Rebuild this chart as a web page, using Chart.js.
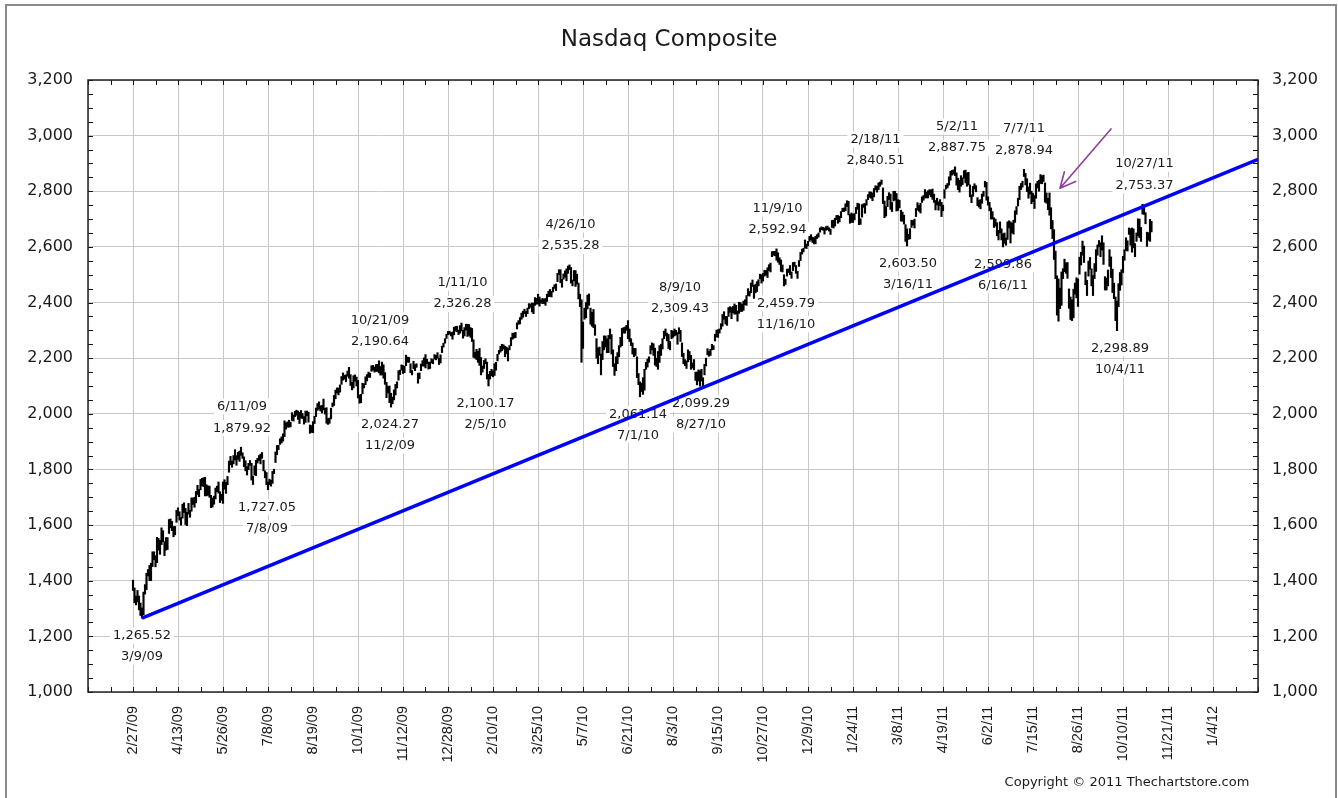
<!DOCTYPE html>
<html>
<head>
<meta charset="utf-8">
<title>Nasdaq Composite</title>
<script src="https://cdn.jsdelivr.net/npm/chart.js@4.4.0/dist/chart.umd.min.js"></script>
<style>
  html, body { margin:0; padding:0; background:#fff; }
  canvas { display:block; }
</style>
</head>
<body>
<canvas id="chart" width="1338" height="798"></canvas>
<script>
// Nasdaq Composite daily bars, one entry per trading day from 2/27/09 (index 0) to 11/4/11
// x axis counts trading days, a date label every 30 days
const dateLabels = ['2/27/09','4/13/09','5/26/09','7/8/09','8/19/09','10/1/09','11/12/09','12/28/09',
  '2/10/10','3/25/10','5/7/10','6/21/10','8/3/10','9/15/10','10/27/10','12/9/10',
  '1/24/11','3/8/11','4/19/11','6/2/11','7/15/11','8/26/11','10/10/11','11/21/11','1/4/12'];

const lows = [
  1365,
  1321,1313,1324,1295,1275,1265.52,1278,1352,1368,1417,1400,1400,1451,1476,1450,1465,1510,1495,1530,1540,1490,1510,
  1512,1570,1590,1580,1558,1565,1610,1634,1618,1600,1625,1645,1602,1598,1640,1628,1650,1674,1664,1680,1710,
  1702,1727,1741,1738,1705,1705,1707,1700,1663,1665,1675,1694,1720,1715,1681,1689,1678,1729,1714,1745,
  1790,1817,1808,1820,1834,1815,1836,1829,1851,1840,1810,1795,1780,1799,1815,1762,1746,1780,1778,1823,1832,1820,
  1840,1795,1770,1745,1727.05,1745,1740,1750,1785,1825,1853,1871,1890,1895,1902,1918,1945,1952,1952,1953,1976,1974,
  1990,1995,1980,1965,1985,1983,1963,1969,1993,1970,1930,1933,1932,1965,1990,2012,2017,2010,2003,2014,1999,
  1966,1962,1966,1982,2025,2030,2054,2075,2068,2078,2106,2121,2125,2115,2135,2128,2102,2086,2093,2117,2100,
  2057,2038,2040,2072,2093,2105,2118,2131,2131,2153,2157,2150,2153,2152,2147,2139,2140,2128,2106,2058,2075,2040,
  2024.27,2036,2050,2068,2093,2121,2141,2157,2145,2148,2173,2185,2185,2148,2140,2162,2155,2167,2110,2126,
  2155,2172,2171,2165,2180,2161,2163,2183,2180,2197,2194,2200,2177,2183,2220,2240,2254,2271,2284,2286,2280,2268,
  // 2010
  2284,2297,2295,2285,2290,2298,2272,2280,2301,2278,2282,2275,2260,2203,2200,2195,2185,2174,2140,
  2150,2163,2180,2125,2100.17,2125,2137,2133,2138,2157,2190,2215,2222,2227,2233,2205,2216,2190,2230,
  2245,2268,2272,2274,2305,2322,2323,2340,2347,2360,2350,2360,2378,2383,2366,2360,2390,2394,2395,2387,2398,2396,2396,
  2390,2404,2421,2422,2420,2438,2451,2443,2475,2500,2471,2455,2484,2491,2478,2505,2518,2470,2460,2478,2458,
  2466,2413,2385,2185,2235,2340,2345,2377,2390,2322,2315,2310,2282,2200,2180,2210,2140,2195,2230,2240,
  2220,2220,2270,2215,2170,2138,2155,2180,2205,2240,2245,2290,2290,2300,2270,2260,2245,2215,2205,2210,2130,2105,
  2061.14,2080,2070,2085,2160,2168,2185,2215,2230,2210,2175,2170,2160,2185,2210,2233,2270,2280,2262,2235,2230,
  2270,2275,2280,2283,2250,2288,2260,2206,2180,2173,2163,2187,2195,2160,2165,2158,2120,2104,2118,2099.29,2118,2100,
  2140,2172,2212,2207,2210,2230,2231,2262,2276,2275,2290,2304,2315,2340,2323,2318,2350,2365,2342,2363,2358,
  2359,2333,2361,2368,2368,2372,2392,2390,2425,2423,2435,2458,2415,2435,2440,2460,2485,2470,2477,2495,2498,
  2490,2515,2510,2565,2570,2568,2552,2545,2537,2512,2510,2459.79,2465,2495,2508,2500,2487,2515,2530,2505,2487,
  2530,2551,2574,2582,2596,2594,2604,2620,2624,2616,2611,2611,2630,2635,2653,2662,2660,2646,2660,2662,2657,2645,
  // 2011
  2670,2668,2675,2698,2685,2690,2705,2727,2727,2730,2745,2715,2685,2688,2688,2697,2720,2735,2680,2681,
  2707,2742,2721,2750,2770,2778,2775,2766,2780,2805,2797,2806,2818,2825,2756,2705,2711,2745,2770,
  2735,2727,2765,2768,2729,2731,2740,2693,2692,2682,2620,2603.5,2627,2629,2670,2678,2668,2709,2733,2728,2722,2760,2768,
  2776,2776,2776,2787,2780,2771,2760,2733,2751,2732,2748,2709,2730,2775,2808,2812,2822,2840,2858,2862,
  2856,2822,2806,2797,2818,2824,2847,2830,2818,2823,2780,2759,2782,2808,2798,2748,2743,2737,2757,2782,2815,
  2768,2750,2730,2700,2700,2670,2675,2640,2625,2650,2625,2599.86,2613,2606,2627,2668,2614,2650,2646,2688,2717,2747,
  2770,2806,2815,2853,2823,2799,2775,2790,2755,2763,2738,2775,2812,2800,2828,2827,2835,2761,2757,2734,
  2714,2665,2630,2555,2486,2355,2333,2378,2390,2486,2511,2505,2487,2379,2339,2335,2345,2430,2417,2386,2502,2535,2570,
  2544,2464,2425,2495,2520,2460,2425,2486,2512,2570,2600,2565,2589,2537,2445,2445,2460,2530,2490,2436,2414,
  2335,2298.89,2385,2444,2463,2508,2552,2587,2585,2645,2606,2581,2597,2565,2620,2639,2633,2620,2718,2717,2683,
  2602,2624,2620,2654
];

const highs = [
  1402,
  1374,1345,1365,1345,1320,1302,1359,1386,1427,1440,1455,1463,1504,1504,1490,1556,1552,1545,1590,1580,1540,1555,
  1555,1620,1622,1613,1595,1595,1653,1662,1648,1628,1675,1680,1660,1646,1678,1653,1698,1697,1700,1721,1743,
  1728,1764,1768,1770,1772,1745,1741,1740,1707,1697,1704,1733,1740,1755,1720,1711,1755,1763,1754,1775,
  1830,1847,1830,1850,1871,1850,1862,1866,1879.92,1860,1845,1831,1810,1822,1832,1822,1776,1813,1833,1840,1850,1855,
  1861,1833,1795,1789,1755,1765,1761,1793,1801,1863,1886,1887,1910,1917,1928,1975,1968,1971,1977,1970,2004,1996,
  2009,2013,2010,2005,2012,2001,1990,2010,2010,2006,1960,1958,1972,1991,2021,2037,2043,2029,2030,2053,2020,
  2022,1983,1985,2020,2039,2066,2085,2093,2093,2104,2134,2147,2139,2140,2154,2167,2141,2113,2137,2140,2132,
  2120,2068,2070,2110,2108,2133,2141,2150,2146,2173,2174,2168,2177,2178,2190.64,2170,2186,2176,2148,2113,2099,2100,
  2074,2060,2086,2106,2115,2155,2157,2176,2174,2171,2211,2204,2203,2180,2156,2189,2177,2180,2146,2147,
  2179,2191,2201,2213,2196,2186,2186,2198,2195,2213,2210,2220,2200,2212,2243,2254,2270,2286,2296,2297,2292,2294,
  // 2010
  2311,2314,2315,2301,2317,2326.28,2300,2310,2322,2322,2321,2310,2307,2266,2221,2232,2225,2235,2202,
  2172,2192,2198,2186,2142,2153,2160,2155,2180,2185,2214,2228,2243,2250,2248,2243,2240,2235,2245,
  2274,2290,2290,2293,2327,2335,2346,2362,2369,2376,2368,2380,2396,2395,2398,2398,2418,2415,2430,2420,2410,2415,2412,
  2415,2430,2441,2447,2440,2455,2464,2467,2505,2518,2518,2484,2503,2514,2521,2531,2535.28,2526,2481,2515,2515,
  2502,2470,2430,2410,2330,2380,2400,2427,2431,2380,2365,2375,2320,2270,2237,2240,2215,2260,2280,2280,
  2270,2282,2305,2285,2230,2180,2205,2220,2245,2275,2307,2310,2312,2318,2335,2305,2270,2255,2235,2235,2205,2145,
  2115,2110,2130,2160,2185,2197,2205,2245,2255,2252,2236,2200,2224,2245,2250,2270,2297,2305,2290,2285,2260,
  2300,2297,2305,2300,2292,2309.43,2300,2255,2218,2195,2190,2230,2224,2210,2183,2195,2150,2150,2158,2155,2160,2130,
  2178,2200,2234,2225,2232,2250,2245,2286,2301,2302,2305,2324,2357,2367,2350,2350,2382,2385,2382,2386,2395,
  2390,2370,2401,2400,2394,2405,2410,2425,2450,2440,2470,2481,2462,2466,2475,2482,2502,2500,2505,2516,2515,
  2525,2536,2542,2583,2584,2584,2592.94,2579,2561,2553,2535,2500,2484,2520,2521,2533,2510,2544,2545,2533,2512,
  2551,2580,2592,2595,2625,2610,2620,2638,2644,2635,2633,2638,2644,2650,2668,2672,2670,2668,2673,2675,2669,2664,
  // 2011
  2695,2696,2703,2713,2713,2710,2727,2739,2740,2755,2766,2764,2717,2722,2718,2720,2742,2757,2755,2701,
  2752,2755,2756,2770,2788,2798,2797,2794,2810,2820,2818,2830,2833,2840.51,2812,2765,2745,2782,2795,
  2790,2760,2800,2800,2792,2770,2768,2732,2725,2714,2680,2665,2645,2666,2696,2695,2700,2738,2759,2750,2757,2780,2785,
  2806,2797,2802,2806,2805,2808,2790,2767,2775,2762,2770,2760,2750,2806,2822,2828,2852,2872,2875,2877,
  2887.75,2866,2847,2840,2856,2848,2874,2876,2866,2868,2823,2787,2818,2827,2820,2777,2768,2770,2790,2800,2836,
  2832,2780,2760,2740,2727,2705,2700,2687,2660,2690,2665,2647,2650,2632,2690,2694,2690,2686,2696,2730,2745,2775,
  2818,2828,2836,2878.94,2864,2845,2815,2829,2800,2792,2785,2827,2836,2840,2860,2856,2858,2830,2794,2775,
  2794,2741,2695,2662,2585,2496,2485,2452,2510,2522,2556,2543,2544,2449,2420,2410,2448,2470,2489,2485,2563,2581,2621,
  2603,2510,2480,2549,2562,2521,2497,2540,2590,2607,2623,2615,2640,2615,2493,2488,2517,2590,2564,2520,2470,
  2420,2405,2468,2508,2518,2566,2590,2633,2622,2668,2665,2668,2665,2612,2650,2701,2700,2670,2753.37,2741,2723,
  2653,2651,2699,2692
];

// trend line from the 3/9/09 low to the right edge
const trendX = [6, 750];
const trendY = [1265.52, 2915];

// arrow annotation (trading day index, index value)
const arrowFrom = [652, 3024];
const arrowTo = [618, 2811];

// peak / trough callouts
const notes = [
  {i:6,   v:1265.52, lines:['1,265.52','3/9/09'],   pos:'below', dx:0},
  {i:72,  v:1879.92, lines:['6/11/09','1,879.92'],  pos:'above', dx:1},
  {i:90,  v:1727.05, lines:['1,727.05','7/8/09'],   pos:'below', dx:-1},
  {i:164, v:2190.64, lines:['10/21/09','2,190.64'], pos:'above', dx:1},
  {i:172, v:2024.27, lines:['2,024.27','11/2/09'],  pos:'below', dx:-1},
  {i:219, v:2326.28, lines:['1/11/10','2,326.28'],  pos:'above', dx:1},
  {i:237, v:2100.17, lines:['2,100.17','2/5/10'],   pos:'below', dx:-3},
  {i:291, v:2535.28, lines:['4/26/10','2,535.28'],  pos:'above', dx:1},
  {i:364, v:2309.43, lines:['8/9/10','2,309.43'],   pos:'above', dx:1},
  {i:338, v:2061.14, lines:['2,061.14','7/1/10'],   pos:'below', dx:-2},
  {i:378, v:2099.29, lines:['2,099.29','8/27/10'],  pos:'below', dx:1},
  {i:429, v:2592.94, lines:['11/9/10','2,592.94'],  pos:'above', dx:1},
  {i:434, v:2459.79, lines:['2,459.79','11/16/10'], pos:'below', dx:2},
  {i:499, v:2840.51, lines:['2/18/11','2,840.51'],  pos:'above', dx:-6},
  {i:516, v:2603.50, lines:['2,603.50','3/16/11'],  pos:'below', dx:1},
  {i:548, v:2887.75, lines:['5/2/11','2,887.75'],   pos:'above', dx:2},
  {i:594, v:2878.94, lines:['7/7/11','2,878.94'],   pos:'above', dx:0},
  {i:580, v:2599.86, lines:['2,599.86','6/16/11'],  pos:'below', dx:0},
  {i:656, v:2298.89, lines:['2,298.89','10/4/11'],  pos:'below', dx:3},
  {i:673, v:2753.37, lines:['10/27/11','2,753.37'], pos:'above', dx:2}
];

const TXT = '#1a1a1a';
const fmt = v => Number(v).toLocaleString('en-US');

Chart.defaults.font.family = "'DejaVu Sans', sans-serif";
Chart.defaults.color = TXT;

const decor = {
  id: 'decor',
  beforeDraw(chart){
    const c = chart.ctx;
    c.save(); c.fillStyle = '#fff'; c.fillRect(0, 0, chart.width, chart.height); c.restore();
  },
  beforeDatasetsDraw(chart){
    const c = chart.ctx, x = chart.scales.x, y = chart.scales.y;
    c.save();
    c.font = "13px 'DejaVu Sans'";
    c.textAlign = 'center'; c.textBaseline = 'middle';
    notes.forEach(n => {
      const px = x.getPixelForValue(n.i) + n.dx, py = y.getPixelForValue(n.v);
      const offs = n.pos === 'below' ? [17.5, 38.5] : [-40.5, -19];
      n.lines.forEach((t, k) => {
        const w = c.measureText(t).width;
        c.fillStyle = '#fff';
        c.fillRect(px - w/2 - 3, py + offs[k] - 8, w + 6, 16);
        c.fillStyle = TXT;
        c.fillText(t, px, py + offs[k]);
      });
    });
    c.restore();
  },
  afterDatasetsDraw(chart){
    const c = chart.ctx, x = chart.scales.x, y = chart.scales.y, a = chart.chartArea;
    c.save();
    // purple arrow
    const x0 = x.getPixelForValue(arrowFrom[0]), y0 = y.getPixelForValue(arrowFrom[1]);
    const x1 = x.getPixelForValue(arrowTo[0]), y1 = y.getPixelForValue(arrowTo[1]);
    const ang = Math.atan2(y1 - y0, x1 - x0);
    c.strokeStyle = '#8e3f9e'; c.lineWidth = 1.6; c.lineCap = 'round';
    c.beginPath(); c.moveTo(x0, y0); c.lineTo(x1, y1);
    [0.45, -0.45].forEach(d => {
      c.moveTo(x1, y1);
      c.lineTo(x1 - 17 * Math.cos(ang + d), y1 - 17 * Math.sin(ang + d));
    });
    c.stroke();
    // inner tick marks on all four sides
    c.strokeStyle = '#111'; c.lineWidth = 1; c.lineCap = 'butt';
    c.beginPath();
    for (let v = -30; v <= 750; v += 15){
      const px = Math.round(x.getPixelForValue(v)) + 0.5;
      c.moveTo(px, a.top); c.lineTo(px, a.top + 5);
      c.moveTo(px, a.bottom); c.lineTo(px, a.bottom - 5);
    }
    for (let v = 1000; v <= 3200; v += 50){
      const py = Math.round(y.getPixelForValue(v)) + 0.5;
      c.moveTo(a.left, py); c.lineTo(a.left + 5, py);
      c.moveTo(a.right, py); c.lineTo(a.right - 5, py);
    }
    c.stroke();
    c.lineWidth = 1.5; c.strokeStyle = '#222';
    c.strokeRect(a.left, a.top, a.right - a.left, a.bottom - a.top);
    c.restore();
  },
  afterDraw(chart){
    const c = chart.ctx;
    c.save();
    c.strokeStyle = '#8a8a8a'; c.lineWidth = 2;
    c.strokeRect(6, 5, 1330, 800);
    c.font = "13px 'DejaVu Sans'"; c.fillStyle = TXT;
    c.textAlign = 'center'; c.textBaseline = 'middle';
    c.fillText('Copyright \u00a9 2011 Thechartstore.com', 1127, 783);
    c.restore();
  }
};

const bars = lows.map((l, i) => ({x: i, y: [l, highs[i]]}));

new Chart(document.getElementById('chart'), {
  type: 'bar',
  data: {
    datasets: [
      { type:'line', data: trendX.map((v, k) => ({x: v, y: trendY[k]})), borderColor:'#0000ff',
        borderWidth:3.5, pointRadius:0, order:0, yAxisID:'y' },
      { type:'bar', data: bars, backgroundColor:'#000', borderWidth:0, barThickness:1.5,
        grouped:false, order:1, yAxisID:'y' }
    ]
  },
  options: {
    responsive:false, animation:false, devicePixelRatio:1,
    layout:{ padding:0 },
    plugins:{
      legend:{ display:false }, tooltip:{ enabled:false },
      title:{ display:true, text:'Nasdaq Composite', color:TXT,
        font:{ size:23, weight:'normal', lineHeight:1.2 }, padding:{ top:26, bottom:26.4 } }
    },
    scales:{
      x:{ type:'linear', min:-30, max:750, offset:false,
        grid:{ color:'#c8c8c8', drawTicks:false, offset:false }, border:{ display:false },
        ticks:{ stepSize:30, autoSkip:false, minRotation:90, maxRotation:90, padding:14,
          font:{ family:"'Liberation Sans', Arial", size:14.5 },
          callback: v => (v >= 0 && v % 30 === 0 && dateLabels[v / 30]) || '' },
        afterFit: s => { s.height = 106; } },
      y:{ position:'left', min:1000, max:3200,
        grid:{ color:'#c8c8c8', drawTicks:false }, border:{ display:false },
        ticks:{ stepSize:200, padding:15, font:{ size:16 }, callback: fmt },
        afterFit: s => { s.width = 88; } },
      y2:{ position:'right', min:1000, max:3200,
        grid:{ display:false, drawTicks:false }, border:{ display:false },
        ticks:{ stepSize:200, padding:14, font:{ size:16 }, callback: fmt },
        afterFit: s => { s.width = 80; } }
    }
  },
  plugins:[decor]
});
</script>
</body>
</html>
